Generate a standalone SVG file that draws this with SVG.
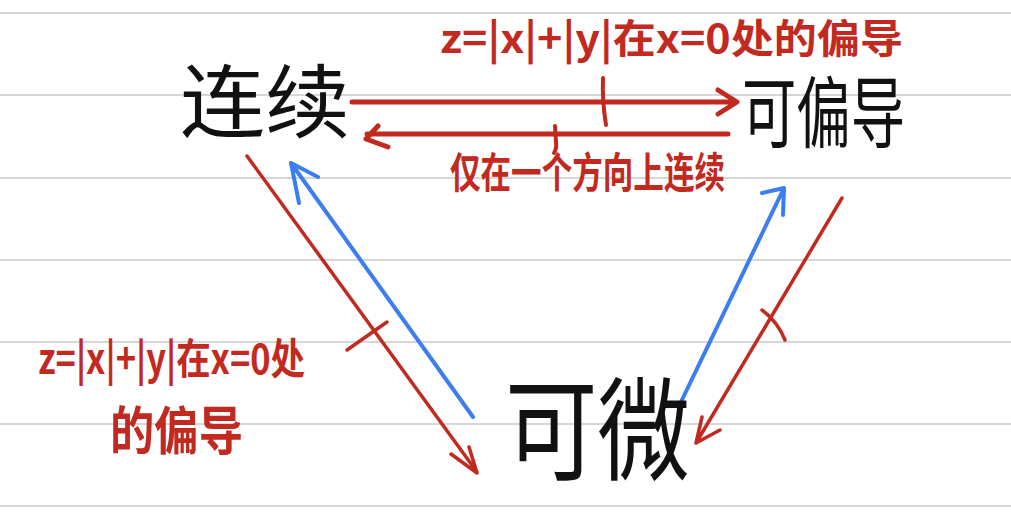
<svg xmlns="http://www.w3.org/2000/svg" width="1011" height="518" viewBox="0 0 1011 518">
<defs>
<style>
.rule{stroke:#d6d6d6;stroke-width:2}
.node{font-family:"Noto Sans CJK SC","Noto Sans",sans-serif;fill:#111;font-weight:400}
.lbl{font-family:"Noto Sans CJK SC","Noto Sans",sans-serif;fill:#c22a1f;font-weight:700}
.red{stroke:#c22a1f;fill:none;stroke-linecap:round;stroke-linejoin:round}
.blue{stroke:#3a7ef0;fill:none;stroke-linecap:round;stroke-linejoin:round;stroke-width:4}
</style>
</defs>
<rect width="1011" height="518" fill="#fff"/>
<g id="rules">
<line class="rule" x1="0" y1="13" x2="1011" y2="13"/>
<line class="rule" x1="0" y1="95" x2="1011" y2="95"/>
<line class="rule" x1="0" y1="178" x2="1011" y2="178"/>
<line class="rule" x1="0" y1="260" x2="1011" y2="260"/>
<line class="rule" x1="0" y1="342" x2="1011" y2="342"/>
<line class="rule" x1="0" y1="424" x2="1011" y2="424"/>
<line class="rule" x1="0" y1="506" x2="1011" y2="506"/>
</g>
<g id="connectors">
<path class="red" stroke-width="5" d="M352 102 L735 102 M718 90 L737 102 L718 114"/>
<path class="red" stroke-width="4" d="M603 78 Q602 100 606 125"/>
<path class="red" stroke-width="5" d="M728 134 L367 134 M378 126 L366 139 L388 147"/>
<path class="red" stroke-width="4" d="M555 126 L556 142 Q557 148 554 153"/>
<path class="red" stroke-width="3.5" d="M247 156 L477 472 M451 454 L477 473 L469 447"/>
<path class="red" stroke-width="3.5" d="M347 350 L387 322"/>
<path class="blue" d="M473 417 L291 163 M299 203 L291 163 L318 177"/>
<path class="blue" d="M680 404 L784 188 M762 193 L784 188 L783 215"/>
<path class="red" stroke-width="3.5" d="M842 198 L696 443 M702 417 L696 443 L720 430"/>
<path class="red" stroke-width="3.5" d="M762 310 Q778 322 785 340"/>
</g>
<g id="node-lianxu"><text class="node" x="180" y="131" font-size="80" textLength="170" lengthAdjust="spacingAndGlyphs">连续</text></g>
<g id="node-kepiandao"><text class="node" x="742" y="142" font-size="78" textLength="163" lengthAdjust="spacingAndGlyphs">可偏导</text></g>
<g id="node-kewei"><text class="node" x="505" y="472" font-size="112" textLength="185" lengthAdjust="spacingAndGlyphs">可微</text></g>
<g id="label-top"><text class="lbl" x="440" y="53" font-size="40" textLength="463" lengthAdjust="spacingAndGlyphs">z=|x|+|y|在x=0处的偏导</text></g>
<g id="label-mid"><text class="lbl" x="450" y="188" font-size="42" textLength="275" lengthAdjust="spacingAndGlyphs">仅在一个方向上连续</text></g>
<g id="label-left">
<text class="lbl" x="38" y="374" font-size="42" textLength="267" lengthAdjust="spacingAndGlyphs">z=|x|+|y|在x=0处</text>
<text class="lbl" x="110" y="450" font-size="52" textLength="133" lengthAdjust="spacingAndGlyphs">的偏导</text>
</g>
</svg>
